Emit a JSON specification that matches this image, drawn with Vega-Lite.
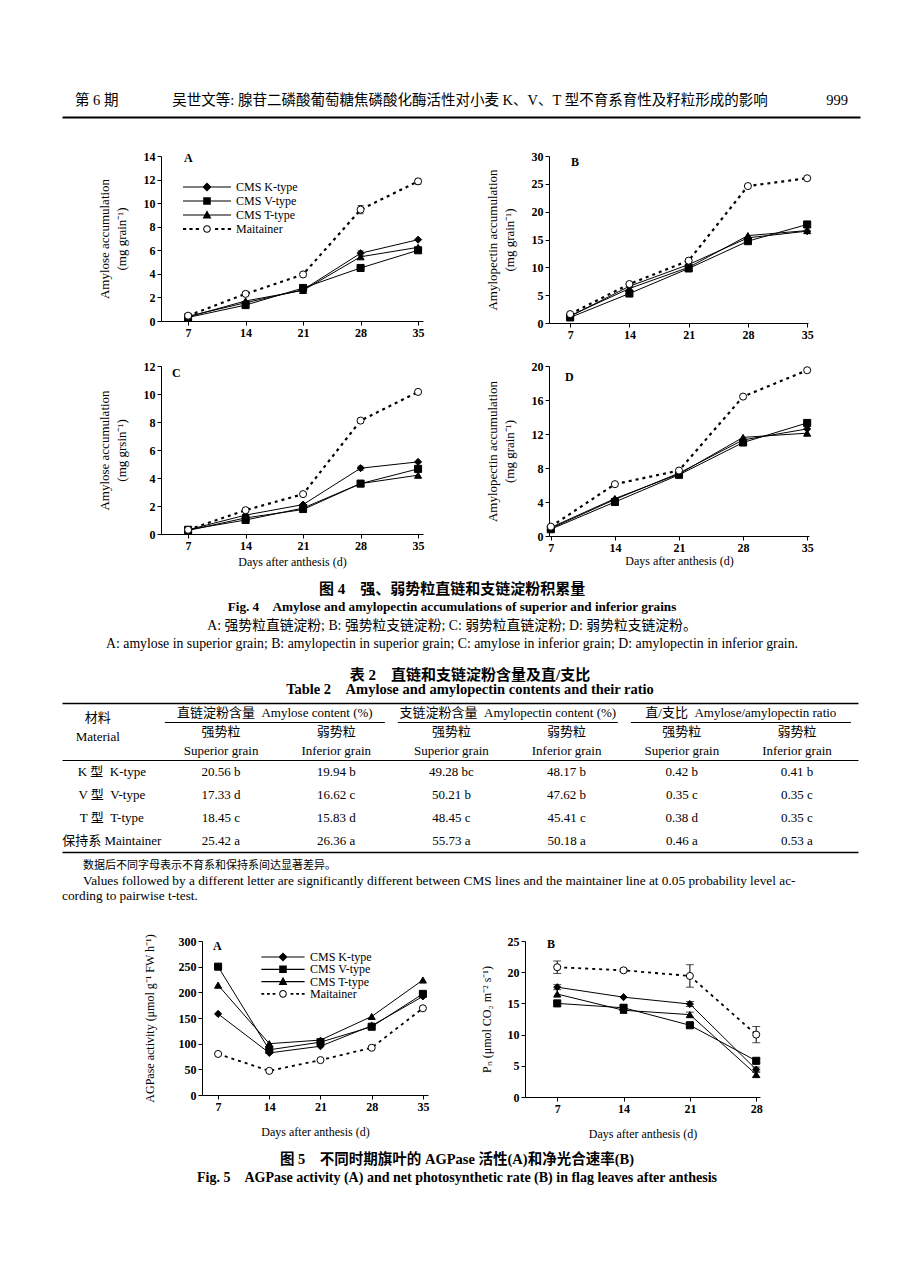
{
"$schema": "https://vega.github.io/schema/vega-lite/v6.json",
"background": "white",
"padding": {"left": 62, "top": 85, "right": 0, "bottom": 0},
"config": {
 "view": {"stroke": null},
 "font": "Liberation Serif",
 "axis": {"domainColor": "black", "domainWidth": 1, "tickColor": "black", "tickSize": 4, "tickWidth": 1, "labelColor": "black", "labelFont": "Liberation Serif", "labelFontSize": 12, "labelFontWeight": "bold", "labelPadding": 2, "labelFlush": false, "labelOverlap": false, "titleColor": "black", "titleFont": "Liberation Serif", "titleFontSize": 13, "titleFontWeight": "normal", "grid": false},
 "legend": {"labelFont": "Liberation Serif", "labelColor": "black"},
 "title": {"font": "Liberation Serif", "color": "black"}
},
"datasets": {
 "fig": [
  {"panel":"A","series":"CMS K-type","day":7,"value":0.4},
  {"panel":"A","series":"CMS K-type","day":14,"value":1.55},
  {"panel":"A","series":"CMS K-type","day":21,"value":2.65},
  {"panel":"A","series":"CMS K-type","day":28,"value":5.75,"lo":5.55,"hi":5.95},
  {"panel":"A","series":"CMS K-type","day":35,"value":6.9},
  {"panel":"A","series":"CMS V-type","day":7,"value":0.3},
  {"panel":"A","series":"CMS V-type","day":14,"value":1.35},
  {"panel":"A","series":"CMS V-type","day":21,"value":2.8},
  {"panel":"A","series":"CMS V-type","day":28,"value":4.5},
  {"panel":"A","series":"CMS V-type","day":35,"value":6.0},
  {"panel":"A","series":"CMS T-type","day":7,"value":0.35},
  {"panel":"A","series":"CMS T-type","day":14,"value":1.7},
  {"panel":"A","series":"CMS T-type","day":21,"value":2.6},
  {"panel":"A","series":"CMS T-type","day":28,"value":5.45},
  {"panel":"A","series":"CMS T-type","day":35,"value":6.25},
  {"panel":"A","series":"Maitainer","day":7,"value":0.45},
  {"panel":"A","series":"Maitainer","day":14,"value":2.3},
  {"panel":"A","series":"Maitainer","day":21,"value":3.95},
  {"panel":"A","series":"Maitainer","day":28,"value":9.45,"lo":9.1,"hi":9.8},
  {"panel":"A","series":"Maitainer","day":35,"value":11.85,"lo":11.6,"hi":12.1},
  {"panel":"B","series":"CMS K-type","day":7,"value":1.2},
  {"panel":"B","series":"CMS K-type","day":14,"value":6.6},
  {"panel":"B","series":"CMS K-type","day":21,"value":10.5},
  {"panel":"B","series":"CMS K-type","day":28,"value":15.3},
  {"panel":"B","series":"CMS K-type","day":35,"value":16.5},
  {"panel":"B","series":"CMS V-type","day":7,"value":1.0},
  {"panel":"B","series":"CMS V-type","day":14,"value":5.3},
  {"panel":"B","series":"CMS V-type","day":21,"value":9.8},
  {"panel":"B","series":"CMS V-type","day":28,"value":14.7},
  {"panel":"B","series":"CMS V-type","day":35,"value":17.7},
  {"panel":"B","series":"CMS T-type","day":7,"value":1.3},
  {"panel":"B","series":"CMS T-type","day":14,"value":6.2},
  {"panel":"B","series":"CMS T-type","day":21,"value":10.0},
  {"panel":"B","series":"CMS T-type","day":28,"value":15.7},
  {"panel":"B","series":"CMS T-type","day":35,"value":16.6},
  {"panel":"B","series":"Maitainer","day":7,"value":1.6},
  {"panel":"B","series":"Maitainer","day":14,"value":7.0},
  {"panel":"B","series":"Maitainer","day":21,"value":11.2},
  {"panel":"B","series":"Maitainer","day":28,"value":24.6},
  {"panel":"B","series":"Maitainer","day":35,"value":26.0,"lo":25.7,"hi":26.3},
  {"panel":"C","series":"CMS K-type","day":7,"value":0.3},
  {"panel":"C","series":"CMS K-type","day":14,"value":1.35},
  {"panel":"C","series":"CMS K-type","day":21,"value":2.1},
  {"panel":"C","series":"CMS K-type","day":28,"value":4.7,"lo":4.55,"hi":4.85},
  {"panel":"C","series":"CMS K-type","day":35,"value":5.15},
  {"panel":"C","series":"CMS V-type","day":7,"value":0.3},
  {"panel":"C","series":"CMS V-type","day":14,"value":1.0},
  {"panel":"C","series":"CMS V-type","day":21,"value":1.85},
  {"panel":"C","series":"CMS V-type","day":28,"value":3.6},
  {"panel":"C","series":"CMS V-type","day":35,"value":4.65},
  {"panel":"C","series":"CMS T-type","day":7,"value":0.25},
  {"panel":"C","series":"CMS T-type","day":14,"value":1.15},
  {"panel":"C","series":"CMS T-type","day":21,"value":1.75},
  {"panel":"C","series":"CMS T-type","day":28,"value":3.6},
  {"panel":"C","series":"CMS T-type","day":35,"value":4.2},
  {"panel":"C","series":"Maitainer","day":7,"value":0.3},
  {"panel":"C","series":"Maitainer","day":14,"value":1.7},
  {"panel":"C","series":"Maitainer","day":21,"value":2.85},
  {"panel":"C","series":"Maitainer","day":28,"value":8.1,"lo":7.95,"hi":8.25},
  {"panel":"C","series":"Maitainer","day":35,"value":10.15,"lo":10.0,"hi":10.3},
  {"panel":"D","series":"CMS K-type","day":7,"value":0.9},
  {"panel":"D","series":"CMS K-type","day":14,"value":4.3},
  {"panel":"D","series":"CMS K-type","day":21,"value":7.4},
  {"panel":"D","series":"CMS K-type","day":28,"value":11.3},
  {"panel":"D","series":"CMS K-type","day":35,"value":12.6},
  {"panel":"D","series":"CMS V-type","day":7,"value":0.8},
  {"panel":"D","series":"CMS V-type","day":14,"value":4.0},
  {"panel":"D","series":"CMS V-type","day":21,"value":7.2},
  {"panel":"D","series":"CMS V-type","day":28,"value":11.0},
  {"panel":"D","series":"CMS V-type","day":35,"value":13.3},
  {"panel":"D","series":"CMS T-type","day":7,"value":1.0},
  {"panel":"D","series":"CMS T-type","day":14,"value":4.4},
  {"panel":"D","series":"CMS T-type","day":21,"value":7.3},
  {"panel":"D","series":"CMS T-type","day":28,"value":11.6},
  {"panel":"D","series":"CMS T-type","day":35,"value":12.1},
  {"panel":"D","series":"Maitainer","day":7,"value":1.1},
  {"panel":"D","series":"Maitainer","day":14,"value":6.1},
  {"panel":"D","series":"Maitainer","day":21,"value":7.7},
  {"panel":"D","series":"Maitainer","day":28,"value":16.4},
  {"panel":"D","series":"Maitainer","day":35,"value":19.5,"lo":19.3,"hi":19.7},
  {"panel":"A5","series":"CMS K-type","day":7,"value":158},
  {"panel":"A5","series":"CMS K-type","day":14,"value":82},
  {"panel":"A5","series":"CMS K-type","day":21,"value":95},
  {"panel":"A5","series":"CMS K-type","day":28,"value":135},
  {"panel":"A5","series":"CMS K-type","day":35,"value":192},
  {"panel":"A5","series":"CMS V-type","day":7,"value":250},
  {"panel":"A5","series":"CMS V-type","day":14,"value":88},
  {"panel":"A5","series":"CMS V-type","day":21,"value":103},
  {"panel":"A5","series":"CMS V-type","day":28,"value":133},
  {"panel":"A5","series":"CMS V-type","day":35,"value":197},
  {"panel":"A5","series":"CMS T-type","day":7,"value":214},
  {"panel":"A5","series":"CMS T-type","day":14,"value":100},
  {"panel":"A5","series":"CMS T-type","day":21,"value":107},
  {"panel":"A5","series":"CMS T-type","day":28,"value":153},
  {"panel":"A5","series":"CMS T-type","day":35,"value":224},
  {"panel":"A5","series":"Maitainer","day":7,"value":80},
  {"panel":"A5","series":"Maitainer","day":14,"value":47},
  {"panel":"A5","series":"Maitainer","day":21,"value":68},
  {"panel":"A5","series":"Maitainer","day":28,"value":92},
  {"panel":"A5","series":"Maitainer","day":35,"value":169},
  {"panel":"B5","series":"CMS K-type","day":7,"value":17.6,"lo":17.2,"hi":18.0},
  {"panel":"B5","series":"CMS K-type","day":14,"value":16.0},
  {"panel":"B5","series":"CMS K-type","day":21,"value":14.9,"lo":14.5,"hi":15.3},
  {"panel":"B5","series":"CMS K-type","day":28,"value":4.4,"lo":4.0,"hi":4.8},
  {"panel":"B5","series":"CMS V-type","day":7,"value":15.0},
  {"panel":"B5","series":"CMS V-type","day":14,"value":14.3,"lo":13.9,"hi":14.7},
  {"panel":"B5","series":"CMS V-type","day":21,"value":11.5,"lo":11.1,"hi":11.9},
  {"panel":"B5","series":"CMS V-type","day":28,"value":5.8,"lo":5.4,"hi":6.2},
  {"panel":"B5","series":"CMS T-type","day":7,"value":16.5},
  {"panel":"B5","series":"CMS T-type","day":14,"value":13.9},
  {"panel":"B5","series":"CMS T-type","day":21,"value":13.2,"lo":12.8,"hi":13.6},
  {"panel":"B5","series":"CMS T-type","day":28,"value":3.6,"lo":3.2,"hi":4.0},
  {"panel":"B5","series":"Maitainer","day":7,"value":20.8,"lo":19.8,"hi":21.8},
  {"panel":"B5","series":"Maitainer","day":14,"value":20.3,"lo":20.1,"hi":20.5},
  {"panel":"B5","series":"Maitainer","day":21,"value":19.4,"lo":17.6,"hi":21.2},
  {"panel":"B5","series":"Maitainer","day":28,"value":10.0,"lo":8.7,"hi":11.3}
 ],
 "tblh": [
  {"r":"g","c":"mat","t":"材料"},
  {"r":"s1","c":"mat","t":"Material"},
  {"r":"s1","c":"as","t":"强势粒"},
  {"r":"s1","c":"ai","t":"弱势粒"},
  {"r":"s1","c":"ps","t":"强势粒"},
  {"r":"s1","c":"pi","t":"弱势粒"},
  {"r":"s1","c":"rs","t":"强势粒"},
  {"r":"s1","c":"ri","t":"弱势粒"},
  {"r":"s2","c":"as","t":"Superior grain"},
  {"r":"s2","c":"ai","t":"Inferior grain"},
  {"r":"s2","c":"ps","t":"Superior grain"},
  {"r":"s2","c":"pi","t":"Inferior grain"},
  {"r":"s2","c":"rs","t":"Superior grain"},
  {"r":"s2","c":"ri","t":"Inferior grain"},
  {"r":"g","grp":"amy","t":"直链淀粉含量\u2002Amylose content (%)"},
  {"r":"g","grp":"ap","t":"支链淀粉含量\u2002Amylopectin content (%)"},
  {"r":"g","grp":"ratio","t":"直/支比\u2002Amylose/amylopectin ratio"}
 ],
 "tblb": [
  {"r":"K","c":"mat","t":"K 型\u2002K-type"},
  {"r":"K","c":"as","t":"20.56 b"},
  {"r":"K","c":"ai","t":"19.94 b"},
  {"r":"K","c":"ps","t":"49.28 bc"},
  {"r":"K","c":"pi","t":"48.17 b"},
  {"r":"K","c":"rs","t":"0.42 b"},
  {"r":"K","c":"ri","t":"0.41 b"},
  {"r":"V","c":"mat","t":"V 型\u2002V-type"},
  {"r":"V","c":"as","t":"17.33 d"},
  {"r":"V","c":"ai","t":"16.62 c"},
  {"r":"V","c":"ps","t":"50.21 b"},
  {"r":"V","c":"pi","t":"47.62 b"},
  {"r":"V","c":"rs","t":"0.35 c"},
  {"r":"V","c":"ri","t":"0.35 c"},
  {"r":"T","c":"mat","t":"T 型\u2002T-type"},
  {"r":"T","c":"as","t":"18.45 c"},
  {"r":"T","c":"ai","t":"15.83 d"},
  {"r":"T","c":"ps","t":"48.45 c"},
  {"r":"T","c":"pi","t":"45.41 c"},
  {"r":"T","c":"rs","t":"0.38 d"},
  {"r":"T","c":"ri","t":"0.35 c"},
  {"r":"M","c":"mat","t":"保持系 Maintainer"},
  {"r":"M","c":"as","t":"25.42 a"},
  {"r":"M","c":"ai","t":"26.36 a"},
  {"r":"M","c":"ps","t":"55.73 a"},
  {"r":"M","c":"pi","t":"50.18 a"},
  {"r":"M","c":"rs","t":"0.46 a"},
  {"r":"M","c":"ri","t":"0.53 a"}
 ]
},
"spacing": 0,
"bounds": "flush",
"resolve": {"scale": {"shape": "independent", "fill": "independent"}, "legend": {"shape": "independent", "fill": "independent"}},
"vconcat": [
 {
  "width": 798, "height": 32,
  "data": {"values": [{"part":"issue","t":"第 6 期"},{"part":"title","t":"吴世文等: 腺苷二磷酸葡萄糖焦磷酸化酶活性对小麦 K、V、T 型不育系育性及籽粒形成的影响"},{"part":"page","t":"999"}]},
  "encoding": {
   "x": {"field":"part","type":"nominal","scale":{"type":"point","domain":["issue","title","page"],"padding":0},"axis":{"orient":"bottom","domain":true,"domainWidth":2,"domainColor":"black","ticks":false,"labels":false,"title":null}},
   "text": {"field":"t","type":"nominal"}
  },
  "layer": [
   {"transform":[{"filter":"datum.part === 'issue'"}],"mark":{"type":"text","align":"left","dx":13,"font":"Liberation Serif, Noto Sans CJK SC","fontSize":14.5,"color":"black"}},
   {"transform":[{"filter":"datum.part === 'title'"}],"mark":{"type":"text","align":"center","dx":9,"font":"Liberation Serif, Noto Sans CJK SC","fontSize":14.5,"color":"black"}},
   {"transform":[{"filter":"datum.part === 'page'"}],"mark":{"type":"text","align":"right","dx":-12,"font":"Liberation Serif, Noto Sans CJK SC","fontSize":14.5,"color":"black"}}
  ]
 },
 {"width": 1, "height": 39, "data": {"values": []}, "mark": {"type": "point", "opacity": 0}},
 {
  "spacing": 0, "bounds": "flush",
  "resolve": {"scale": {"shape": "independent", "fill": "independent"}, "legend": {"shape": "independent", "fill": "independent"}},
  "hconcat": [
   {"width": 99, "height": 1, "data": {"values": []}, "mark": {"type": "point", "opacity": 0}},
   {
    "spacing": 126, "bounds": "flush",
    "resolve": {"scale": {"shape": "independent", "fill": "independent"}, "legend": {"shape": "independent", "fill": "independent"}},
    "hconcat": [
     {
      "width": 262, "height": 165,
      "title": {"text": "A", "anchor": "start", "align": "left", "frame": "group", "baseline": "middle", "offset": -20, "dx": 23, "fontSize": 12, "fontWeight": "bold"},
      "data": {"name": "fig"},
      "transform": [{"filter": "datum.panel === 'A'"}],
      "encoding": {
       "x": {"field": "day", "type": "quantitative", "scale": {"domain": [3.7, 35.6], "nice": false, "zero": false}, "axis": {"values": [7,14,21,28,35], "title": null}},
       "y": {"field": "value", "type": "quantitative", "scale": {"domain": [0, 14], "nice": false, "zero": false}, "axis": {"values": [0,2,4,6,8,10,12,14], "title": ["Amylose accumulation", "(mg grain⁻¹)"], "titlePadding": 15, "titleLineHeight": 17}}
      },
      "layer": [
       {"transform": [{"filter": "datum.series !== 'Maitainer'"}], "mark": {"type": "line", "color": "black", "strokeWidth": 1}, "encoding": {"detail": {"field": "series", "type": "nominal"}}},
       {"transform": [{"filter": "datum.series === 'Maitainer'"}], "mark": {"type": "line", "color": "black", "strokeWidth": 2.2, "strokeDash": [3, 4]}},
       {"transform": [{"filter": "isValid(datum.lo)"}], "mark": {"type": "errorbar", "ticks": {"size": 6, "color": "black"}, "rule": {"color": "black"}, "thickness": 1}, "encoding": {"y": {"field": "lo", "type": "quantitative", "title": null}, "y2": {"field": "hi"}}},
       {"mark": {"type": "point", "filled": true, "stroke": "black", "strokeWidth": 1, "opacity": 1, "size": 50},
        "encoding": {
         "shape": {"field": "series", "type": "nominal", "scale": {"domain": ["CMS K-type","CMS V-type","CMS T-type","Maitainer"], "range": ["diamond","square","triangle-up","circle"]}, "legend": null},
         "fill": {"field": "series", "type": "nominal", "scale": {"domain": ["CMS K-type","CMS V-type","CMS T-type","Maitainer"], "range": ["black","black","black","white"]}, "legend": null}
        }},
       {"transform": [{"filter": "false"}], "mark": {"type": "point", "filled": true, "color": "black", "opacity": 1},
        "encoding": {
         "shape": {"field": "series", "type": "nominal",
          "scale": {"domain": ["CMS K-type","CMS V-type","CMS T-type","Maitainer"], "range": [
           "M-6,-0.15H6V0.15H-6Z M0,-1.15L1.15,0L0,1.15L-1.15,0Z",
           "M-6,-0.15H6V0.15H-6Z M-0.95,-0.95H0.95V0.95H-0.95Z",
           "M-6,-0.15H6V0.15H-6Z M0,-1.2L1.1,0.85H-1.1Z",
           "M-6,-0.25H-5.2V0.25H-6Z M-4.4,-0.25H-3.6V0.25H-4.4Z M-2.8,-0.25H-2V0.25H-2.8Z M2,-0.25H2.8V0.25H2Z M3.6,-0.25H4.4V0.25H3.6Z M5.2,-0.25H6V0.25H5.2Z M0.95,0A0.95,0.95,0,1,1,-0.95,0A0.95,0.95,0,1,1,0.95,0Z M0.7,0A0.7,0.7,0,1,0,-0.7,0A0.7,0.7,0,1,0,0.7,0Z"]},
          "legend": {"title": null, "orient": "none", "legendX": 21, "legendY": 25, "padding": 0, "symbolSize": 64, "symbolOffset": 19, "labelOffset": 23, "rowPadding": 2, "labelFontSize": 12, "labelLimit": 200, "symbolFillColor": "black", "symbolStrokeColor": "transparent", "symbolStrokeWidth": 0, "symbolOpacity": 1}}
        }}
      ],
      "resolve": {"scale": {"shape": "independent"}, "legend": {"shape": "independent"}}
     },
     {
      "width": 259, "height": 167,
      "title": {"text": "B", "anchor": "start", "align": "left", "frame": "group", "baseline": "middle", "offset": -24, "dx": 22, "fontSize": 12, "fontWeight": "bold"},
      "data": {"name": "fig"},
      "transform": [{"filter": "datum.panel === 'B'"}],
      "encoding": {
       "x": {"field": "day", "type": "quantitative", "scale": {"domain": [4.5, 35.1], "nice": false, "zero": false}, "axis": {"values": [7,14,21,28,35], "title": null}},
       "y": {"field": "value", "type": "quantitative", "scale": {"domain": [0, 30], "nice": false, "zero": false}, "axis": {"values": [0,5,10,15,20,25,30], "title": ["Amylopectin accumulation", "(mg grain⁻¹)"], "titlePadding": 15, "titleLineHeight": 17}}
      },
      "layer": [
       {"transform": [{"filter": "datum.series !== 'Maitainer'"}], "mark": {"type": "line", "color": "black", "strokeWidth": 1}, "encoding": {"detail": {"field": "series", "type": "nominal"}}},
       {"transform": [{"filter": "datum.series === 'Maitainer'"}], "mark": {"type": "line", "color": "black", "strokeWidth": 2.2, "strokeDash": [3, 4]}},
       {"transform": [{"filter": "isValid(datum.lo)"}], "mark": {"type": "errorbar", "ticks": {"size": 6, "color": "black"}, "rule": {"color": "black"}, "thickness": 1}, "encoding": {"y": {"field": "lo", "type": "quantitative", "title": null}, "y2": {"field": "hi"}}},
       {"mark": {"type": "point", "filled": true, "stroke": "black", "strokeWidth": 1, "opacity": 1, "size": 50},
        "encoding": {
         "shape": {"field": "series", "type": "nominal", "scale": {"domain": ["CMS K-type","CMS V-type","CMS T-type","Maitainer"], "range": ["diamond","square","triangle-up","circle"]}, "legend": null},
         "fill": {"field": "series", "type": "nominal", "scale": {"domain": ["CMS K-type","CMS V-type","CMS T-type","Maitainer"], "range": ["black","black","black","white"]}, "legend": null}
        }}
      ]
     }
    ]
   }
  ]
 },
 {"width": 1, "height": 210, "data": {"values": []}, "mark": {"type": "point", "opacity": 0}},
 {
  "spacing": 0, "bounds": "flush",
  "resolve": {"scale": {"shape": "independent", "fill": "independent"}, "legend": {"shape": "independent", "fill": "independent"}},
  "hconcat": [
   {"width": 99, "height": 1, "data": {"values": []}, "mark": {"type": "point", "opacity": 0}},
   {
    "spacing": 126, "bounds": "flush",
    "resolve": {"scale": {"shape": "independent", "fill": "independent"}, "legend": {"shape": "independent", "fill": "independent"}},
    "hconcat": [
     {
      "width": 262, "height": 168,
      "title": {"text": "C", "anchor": "start", "align": "left", "frame": "group", "baseline": "middle", "offset": -25, "dx": 11, "fontSize": 12, "fontWeight": "bold"},
      "data": {"name": "fig"},
      "transform": [{"filter": "datum.panel === 'C'"}],
      "encoding": {
       "x": {"field": "day", "type": "quantitative", "scale": {"domain": [3.7, 35.6], "nice": false, "zero": false}, "axis": {"values": [7,14,21,28,35], "title": "Days after anthesis (d)", "titleFontSize": 12, "titlePadding": 5}},
       "y": {"field": "value", "type": "quantitative", "scale": {"domain": [0, 12], "nice": false, "zero": false}, "axis": {"values": [0,2,4,6,8,10,12], "title": ["Amylose accumulation", "(mg grsin⁻¹)"], "titlePadding": 15, "titleLineHeight": 17}}
      },
      "layer": [
       {"transform": [{"filter": "datum.series !== 'Maitainer'"}], "mark": {"type": "line", "color": "black", "strokeWidth": 1}, "encoding": {"detail": {"field": "series", "type": "nominal"}}},
       {"transform": [{"filter": "datum.series === 'Maitainer'"}], "mark": {"type": "line", "color": "black", "strokeWidth": 2.2, "strokeDash": [3, 4]}},
       {"transform": [{"filter": "isValid(datum.lo)"}], "mark": {"type": "errorbar", "ticks": {"size": 6, "color": "black"}, "rule": {"color": "black"}, "thickness": 1}, "encoding": {"y": {"field": "lo", "type": "quantitative", "title": null}, "y2": {"field": "hi"}}},
       {"mark": {"type": "point", "filled": true, "stroke": "black", "strokeWidth": 1, "opacity": 1, "size": 50},
        "encoding": {
         "shape": {"field": "series", "type": "nominal", "scale": {"domain": ["CMS K-type","CMS V-type","CMS T-type","Maitainer"], "range": ["diamond","square","triangle-up","circle"]}, "legend": null},
         "fill": {"field": "series", "type": "nominal", "scale": {"domain": ["CMS K-type","CMS V-type","CMS T-type","Maitainer"], "range": ["black","black","black","white"]}, "legend": null}
        }}
      ]
     },
     {
      "width": 260, "height": 170,
      "title": {"text": "D", "anchor": "start", "align": "left", "frame": "group", "baseline": "middle", "offset": -29, "dx": 16, "fontSize": 12, "fontWeight": "bold"},
      "data": {"name": "fig"},
      "transform": [{"filter": "datum.panel === 'D'"}],
      "encoding": {
       "x": {"field": "day", "type": "quantitative", "scale": {"domain": [6.8, 35.2], "nice": false, "zero": false}, "axis": {"values": [7,14,21,28,35], "title": "Days after anthesis (d)", "titleFontSize": 12, "titlePadding": 2}},
       "y": {"field": "value", "type": "quantitative", "scale": {"domain": [0, 20], "nice": false, "zero": false}, "axis": {"values": [0,4,8,12,16,20], "title": ["Amylopectin accumulation", "(mg grain⁻¹)"], "titlePadding": 15, "titleLineHeight": 17}}
      },
      "layer": [
       {"transform": [{"filter": "datum.series !== 'Maitainer'"}], "mark": {"type": "line", "color": "black", "strokeWidth": 1}, "encoding": {"detail": {"field": "series", "type": "nominal"}}},
       {"transform": [{"filter": "datum.series === 'Maitainer'"}], "mark": {"type": "line", "color": "black", "strokeWidth": 2.2, "strokeDash": [3, 4]}},
       {"transform": [{"filter": "isValid(datum.lo)"}], "mark": {"type": "errorbar", "ticks": {"size": 6, "color": "black"}, "rule": {"color": "black"}, "thickness": 1}, "encoding": {"y": {"field": "lo", "type": "quantitative", "title": null}, "y2": {"field": "hi"}}},
       {"mark": {"type": "point", "filled": true, "stroke": "black", "strokeWidth": 1, "opacity": 1, "size": 50},
        "encoding": {
         "shape": {"field": "series", "type": "nominal", "scale": {"domain": ["CMS K-type","CMS V-type","CMS T-type","Maitainer"], "range": ["diamond","square","triangle-up","circle"]}, "legend": null},
         "fill": {"field": "series", "type": "nominal", "scale": {"domain": ["CMS K-type","CMS V-type","CMS T-type","Maitainer"], "range": ["black","black","black","white"]}, "legend": null}
        }}
      ]
     }
    ]
   }
  ]
 },
 {"width": 1, "height": 214, "data": {"values": []}, "mark": {"type": "point", "opacity": 0}},
 {
  "width": 780, "height": 73,
  "data": {"values": [
   {"line":1,"t":"图 4\u2003强、弱势粒直链和支链淀粉积累量"},
   {"line":2,"t":"Fig. 4\u2003Amylose and amylopectin accumulations of superior and inferior grains"},
   {"line":3,"t":"A: 强势粒直链淀粉; B: 强势粒支链淀粉; C: 弱势粒直链淀粉; D: 弱势粒支链淀粉。"},
   {"line":4,"t":"A: amylose in superior grain; B: amylopectin in superior grain; C: amylose in inferior grain; D: amylopectin in inferior grain."}
  ]},
  "encoding": {
   "y": {"field":"line","type":"ordinal","scale":{"type":"point","domain":[1,2,3,4],"padding":0.5},"axis":null},
   "text": {"field":"t","type":"nominal"}
  },
  "layer": [
   {"transform":[{"filter":"datum.line === 1"}],"mark":{"type":"text","font":"Liberation Serif, Noto Sans CJK SC","fontSize":15,"fontWeight":"bold","color":"black"}},
   {"transform":[{"filter":"datum.line === 2"}],"mark":{"type":"text","font":"Liberation Serif, Noto Sans CJK SC","fontSize":13.2,"fontWeight":"bold","color":"black"}},
   {"transform":[{"filter":"datum.line > 2"}],"mark":{"type":"text","font":"Liberation Serif, Noto Sans CJK SC","fontSize":13.8,"color":"black"}}
  ]
 },
 {"width": 1, "height": 14, "data": {"values": []}, "mark": {"type": "point", "opacity": 0}},
 {
  "width": 816, "height": 31,
  "data": {"values": [
   {"line":1,"t":"表 2\u2003直链和支链淀粉含量及直/支比"},
   {"line":2,"t":"Table 2\u2003Amylose and amylopectin contents and their ratio"}
  ]},
  "encoding": {
   "y": {"field":"line","type":"ordinal","scale":{"type":"point","domain":[1,2],"padding":0.5},"axis":null},
   "text": {"field":"t","type":"nominal"}
  },
  "layer": [
   {"transform":[{"filter":"datum.line === 1"}],"mark":{"type":"text","font":"Liberation Serif, Noto Sans CJK SC","fontSize":15,"fontWeight":"bold","color":"black"}},
   {"transform":[{"filter":"datum.line === 2"}],"mark":{"type":"text","font":"Liberation Serif, Noto Sans CJK SC","fontSize":14.5,"fontWeight":"bold","color":"black"}}
  ]
 },
 {"width": 1, "height": 5, "data": {"values": []}, "mark": {"type": "point", "opacity": 0}},
 {
  "width": 796, "height": 57,
  "data": {"name": "tblh"},
  "encoding": {
   "y": {"field":"r","type":"nominal","scale":{"type":"point","domain":["g","s1","s2"],"padding":0.5},"axis":null}
  },
  "layer": [
   {
    "transform":[{"filter":"isValid(datum.c)"}],
    "encoding": {
     "x": {"field":"c","type":"nominal","scale":{"type":"point","domain":["mat","as","ai","ps","pi","rs","ri"],"padding":0.4549,"align":0.418},"axis":{"orient":"top","domain":true,"domainWidth":1.6,"domainColor":"black","ticks":false,"labels":false,"title":null}},
     "text": {"field":"t","type":"nominal"}
    },
    "layer": [
     {"transform":[{"filter":"datum.c === 'mat'"}],"mark":{"type":"text","dx":-8,"dy":5,"font":"Liberation Serif, Noto Sans CJK SC","fontSize":13,"color":"black"}},
     {"transform":[{"filter":"datum.c !== 'mat'"}],"mark":{"type":"text","font":"Liberation Serif, Noto Sans CJK SC","fontSize":13,"color":"black"}}
    ]
   },
   {
    "transform":[{"filter":"isValid(datum.grp)"}],
    "encoding": {
     "x": {"field":"grp","type":"nominal","scale":{"type":"point","domain":["amy","ap","ratio"],"padding":0.708,"align":0.645},"axis":{"orient":"bottom","domain":true,"domainWidth":1,"domainColor":"black","ticks":false,"labels":false,"title":null}}
    },
    "layer": [
     {"mark":{"type":"text","font":"Liberation Serif, Noto Sans CJK SC","fontSize":13,"color":"black"},"encoding":{"text":{"field":"t","type":"nominal"}}},
     {"mark":{"type":"rule","color":"black","strokeWidth":1,"xOffset":-110,"x2Offset":110,"yOffset":10},"encoding":{"x2":{"field":"grp"}}}
    ]
   }
  ],
  "resolve": {"scale": {"x": "independent"}, "axis": {"x": "independent"}}
 },
 {
  "width": 796, "height": 92,
  "data": {"name": "tblb"},
  "encoding": {
   "x": {"field":"c","type":"nominal","scale":{"type":"point","domain":["mat","as","ai","ps","pi","rs","ri"],"padding":0.4549,"align":0.418},"axis":{"orient":"bottom","domain":true,"domainWidth":1.6,"domainColor":"black","ticks":false,"labels":false,"title":null}},
   "y": {"field":"r","type":"nominal","scale":{"type":"point","domain":["K","V","T","M"],"padding":0.5},"axis":null},
   "text": {"field":"t","type":"nominal"}
  },
  "layer": [
   {"transform":[{"filter":"datum.c === 'mat'"}],"mark":{"type":"text","dx":6,"font":"Liberation Serif, Noto Sans CJK SC","fontSize":13,"color":"black"}},
   {"transform":[{"filter":"datum.c !== 'mat'"}],"mark":{"type":"text","font":"Liberation Serif, Noto Sans CJK SC","fontSize":13,"color":"black"}}
  ]
 },
 {"width": 1, "height": 6, "data": {"values": []}, "mark": {"type": "point", "opacity": 0}},
 {
  "width": 2, "height": 46,
  "data": {"values": [
   {"line":1,"t":"数据后不同字母表示不育系和保持系间达显著差异。"},
   {"line":2,"t":"Values followed by a different letter are significantly different between CMS lines and the maintainer line at 0.05 probability level ac-"},
   {"line":3,"t":"cording to pairwise t-test."}
  ]},
  "encoding": {
   "y": {"field":"line","type":"ordinal","scale":{"type":"point","domain":[1,2,3],"padding":0.5},"axis":null},
   "text": {"field":"t","type":"nominal"}
  },
  "layer": [
   {"transform":[{"filter":"datum.line === 1"}],"mark":{"type":"text","align":"left","dx":20,"font":"Liberation Serif, Noto Sans CJK SC","fontSize":11,"color":"black"}},
   {"transform":[{"filter":"datum.line === 2"}],"mark":{"type":"text","align":"left","dx":20,"font":"Liberation Serif, Noto Sans CJK SC","fontSize":13.3,"color":"black"}},
   {"transform":[{"filter":"datum.line > 2"}],"mark":{"type":"text","align":"left","dx":-1,"font":"Liberation Serif, Noto Sans CJK SC","fontSize":13.3,"color":"black"}}
  ]
 },
 {"width": 1, "height": 37, "data": {"values": []}, "mark": {"type": "point", "opacity": 0}},
 {
  "spacing": 0, "bounds": "flush",
  "resolve": {"scale": {"shape": "independent", "fill": "independent"}, "legend": {"shape": "independent", "fill": "independent"}},
  "hconcat": [
   {"width": 140, "height": 1, "data": {"values": []}, "mark": {"type": "point", "opacity": 0}},
   {
    "spacing": 97, "bounds": "flush",
    "resolve": {"scale": {"shape": "independent", "fill": "independent"}, "legend": {"shape": "independent", "fill": "independent"}},
    "hconcat": [
     {
      "width": 226, "height": 154,
      "title": {"text": "A", "anchor": "start", "align": "left", "frame": "group", "baseline": "middle", "offset": -24, "dx": 11, "fontSize": 12, "fontWeight": "bold"},
      "data": {"name": "fig"},
      "transform": [{"filter": "datum.panel === 'A5'"}],
      "encoding": {
       "x": {"field": "day", "type": "quantitative", "scale": {"domain": [4.8, 35.7], "nice": false, "zero": false}, "axis": {"values": [7,14,21,28,35], "title": "Days after anthesis (d)", "titleFontSize": 12, "titlePadding": 14}},
       "y": {"field": "value", "type": "quantitative", "scale": {"domain": [0, 300], "nice": false, "zero": false}, "axis": {"values": [0,50,100,150,200,250,300], "title": "AGPase activity (μmol g⁻¹ FW h⁻¹)", "titleFontSize": 12, "titlePadding": 22}}
      },
      "layer": [
       {"transform": [{"filter": "datum.series !== 'Maitainer'"}], "mark": {"type": "line", "color": "black", "strokeWidth": 1}, "encoding": {"detail": {"field": "series", "type": "nominal"}}},
       {"transform": [{"filter": "datum.series === 'Maitainer'"}], "mark": {"type": "line", "color": "black", "strokeWidth": 1.8, "strokeDash": [3, 4]}},
       {"mark": {"type": "point", "filled": true, "stroke": "black", "strokeWidth": 1, "opacity": 1, "size": 50},
        "encoding": {
         "shape": {"field": "series", "type": "nominal", "scale": {"domain": ["CMS K-type","CMS V-type","CMS T-type","Maitainer"], "range": ["diamond","square","triangle-up","circle"]}, "legend": null},
         "fill": {"field": "series", "type": "nominal", "scale": {"domain": ["CMS K-type","CMS V-type","CMS T-type","Maitainer"], "range": ["black","black","black","white"]}, "legend": null}
        }},
       {"transform": [{"filter": "false"}], "mark": {"type": "point", "filled": true, "color": "black", "opacity": 1},
        "encoding": {
         "shape": {"field": "series", "type": "nominal",
          "scale": {"domain": ["CMS K-type","CMS V-type","CMS T-type","Maitainer"], "range": [
           "M-5.4,-0.15H5.4V0.15H-5.4Z M0,-1.15L1.15,0L0,1.15L-1.15,0Z",
           "M-5.4,-0.15H5.4V0.15H-5.4Z M-0.95,-0.95H0.95V0.95H-0.95Z",
           "M-5.4,-0.15H5.4V0.15H-5.4Z M0,-1.2L1.1,0.85H-1.1Z",
           "M-5.4,-0.2H-4.7V0.2H-5.4Z M-4,-0.2H-3.3V0.2H-4Z M-2.6,-0.2H-1.9V0.2H-2.6Z M1.9,-0.2H2.6V0.2H1.9Z M3.3,-0.2H4V0.2H3.3Z M4.7,-0.2H5.4V0.2H4.7Z M0.95,0A0.95,0.95,0,1,1,-0.95,0A0.95,0.95,0,1,1,0.95,0Z M0.7,0A0.7,0.7,0,1,0,-0.7,0A0.7,0.7,0,1,0,0.7,0Z"]},
          "legend": {"title": null, "orient": "none", "legendX": 58, "legendY": 10, "padding": 0, "symbolSize": 64, "symbolOffset": 17, "labelOffset": 21, "rowPadding": 0.3, "labelFontSize": 12, "labelLimit": 200, "symbolFillColor": "black", "symbolStrokeColor": "transparent", "symbolStrokeWidth": 0, "symbolOpacity": 1}}
        }}
      ],
      "resolve": {"scale": {"shape": "independent"}, "legend": {"shape": "independent"}}
     },
     {
      "width": 235, "height": 156,
      "title": {"text": "B", "anchor": "start", "align": "left", "frame": "group", "baseline": "middle", "offset": -21, "dx": 22, "fontSize": 12, "fontWeight": "bold"},
      "data": {"name": "fig"},
      "transform": [{"filter": "datum.panel === 'B5'"}],
      "encoding": {
       "x": {"field": "day", "type": "quantitative", "scale": {"domain": [3.6, 28.4], "nice": false, "zero": false}, "axis": {"values": [7,14,21,28], "title": "Days after anthesis (d)", "titleFontSize": 12, "titlePadding": 14}},
       "y": {"field": "value", "type": "quantitative", "scale": {"domain": [0, 25], "nice": false, "zero": false}, "axis": {"values": [0,5,10,15,20,25], "title": "Pₙ (μmol CO₂ m⁻² s⁻¹)", "titleFontSize": 12, "titlePadding": 14}}
      },
      "layer": [
       {"transform": [{"filter": "datum.series !== 'Maitainer'"}], "mark": {"type": "line", "color": "black", "strokeWidth": 1}, "encoding": {"detail": {"field": "series", "type": "nominal"}}},
       {"transform": [{"filter": "datum.series === 'Maitainer'"}], "mark": {"type": "line", "color": "black", "strokeWidth": 1.8, "strokeDash": [3, 4]}},
       {"transform": [{"filter": "isValid(datum.lo)"}], "mark": {"type": "errorbar", "ticks": {"size": 8, "color": "black"}, "rule": {"color": "black"}, "thickness": 1}, "encoding": {"y": {"field": "lo", "type": "quantitative", "title": null}, "y2": {"field": "hi"}}},
       {"mark": {"type": "point", "filled": true, "stroke": "black", "strokeWidth": 1, "opacity": 1, "size": 50},
        "encoding": {
         "shape": {"field": "series", "type": "nominal", "scale": {"domain": ["CMS K-type","CMS V-type","CMS T-type","Maitainer"], "range": ["diamond","square","triangle-up","circle"]}, "legend": null},
         "fill": {"field": "series", "type": "nominal", "scale": {"domain": ["CMS K-type","CMS V-type","CMS T-type","Maitainer"], "range": ["black","black","black","white"]}, "legend": null}
        }}
      ]
     }
    ]
   }
  ]
 },
 {"width": 1, "height": 210, "data": {"values": []}, "mark": {"type": "point", "opacity": 0}},
 {
  "width": 790, "height": 36,
  "data": {"values": [
   {"line":1,"t":"图 5\u2003不同时期旗叶的 AGPase 活性(A)和净光合速率(B)"},
   {"line":2,"t":"Fig. 5\u2003AGPase activity (A) and net photosynthetic rate (B) in flag leaves after anthesis"}
  ]},
  "encoding": {
   "y": {"field":"line","type":"ordinal","scale":{"type":"point","domain":[1,2],"padding":0.5},"axis":null},
   "text": {"field":"t","type":"nominal"}
  },
  "layer": [
   {"transform":[{"filter":"datum.line === 1"}],"mark":{"type":"text","font":"Liberation Serif, Noto Sans CJK SC","fontSize":14.5,"fontWeight":"bold","color":"black"}},
   {"transform":[{"filter":"datum.line === 2"}],"mark":{"type":"text","font":"Liberation Serif, Noto Sans CJK SC","fontSize":14,"fontWeight":"bold","color":"black"}}
  ]
 }
]
}
